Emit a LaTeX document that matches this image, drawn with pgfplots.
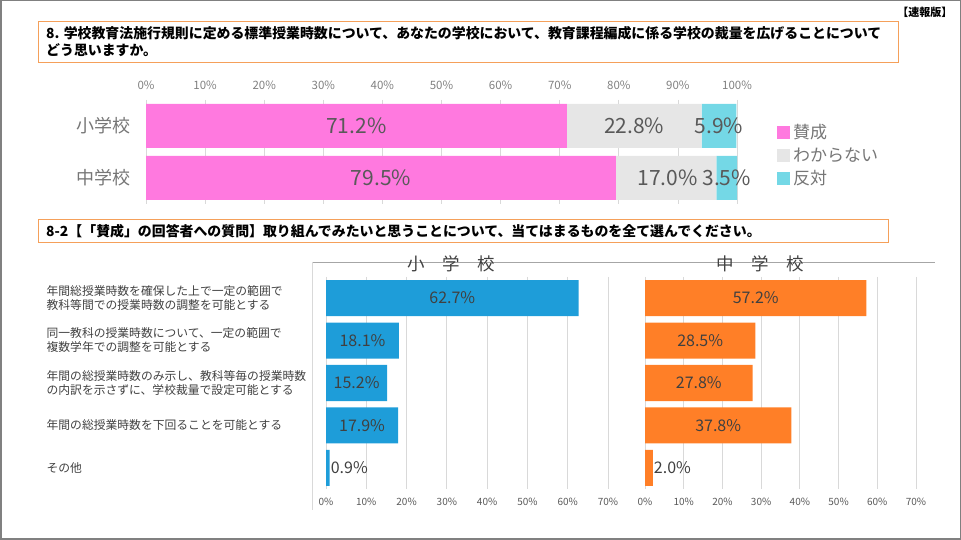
\documentclass[border=0pt]{standalone}
\usepackage{fontspec}
\setmainfont{Noto Sans CJK JP}
\usepackage{pgfplots}
\pgfplotsset{compat=1.18}
\definecolor{cPink}{RGB}{255,121,223}
\definecolor{cGrayBar}{RGB}{230,230,230}
\definecolor{cCyan}{RGB}{116,216,230}
\definecolor{cBlue}{RGB}{30,157,217}
\definecolor{cOrange}{RGB}{255,127,39}
\definecolor{cGrid}{RGB}{217,217,217}
\definecolor{cTick}{RGB}{128,128,128}
\definecolor{cCat}{RGB}{118,118,118}
\definecolor{cLab}{RGB}{89,89,89}
\definecolor{cLab2}{RGB}{64,64,64}
\definecolor{cBox}{RGB}{245,160,90}
\definecolor{cFrame}{RGB}{128,128,128}
\definecolor{cLine}{RGB}{166,166,166}
\begin{document}
\begin{tikzpicture}[x=1pt,y=1pt]
\useasboundingbox (0,0) rectangle (961,540);
\draw[cFrame, line width=1.5pt] (0.75,0.75) rectangle (960.25,539.25);
\node[anchor=east, font=\bfseries\fontsize{11}{13}\selectfont] at (956,528) {【速報版】};
% title box 1
\draw[cBox, line width=1pt] (38,477) rectangle (898,518);
\node[anchor=north west, align=left, inner sep=0pt, font=\bfseries\fontsize{13.9}{17}\selectfont] at (46,514)
 {8. 学校教育法施行規則に定める標準授業時数について、あなたの学校において、教育課程編成に係る学校の裁量を広げることについて\\どう思いますか。};
% top chart
\begin{axis}[
  at={(146pt,336pt)}, anchor=south west, scale only axis,
  width=591pt, height=104pt,
  xbar stacked, bar width=44pt,
  xmin=0, xmax=100, ymin=-0.5, ymax=1.5, y dir=reverse,
  xtick={0,10,...,100}, xticklabel pos=upper,
  /pgf/number format/assume math mode=true,
  xticklabel={\pgfmathprintnumber{\tick}\%},
  xticklabel style={font=\fontsize{11.5}{13}\selectfont, text=cTick, yshift=7pt},
  ytick={0,1}, yticklabels={小学校,中学校},
  yticklabel style={font=\fontsize{18}{18}\selectfont, text=cCat, xshift=-12pt},
  xmajorgrids, grid style={cGrid, line width=0.75pt},
  axis line style={draw=none}, major tick length=0pt,
  legend style={at={(1.0677,0.775)}, anchor=north west, draw=none, fill=none,
    inner sep=0pt, nodes={inner sep=1pt}, row sep=5.5pt, column sep=2pt,
    font=\fontsize{17}{17}\selectfont, text=cCat, cells={anchor=west}},
]
\addplot[fill=cPink, draw=none, legend image code/.code={\fill[cPink] (0pt,-6.5pt) rectangle (13pt,6.5pt);}] coordinates {(71.2,0) (79.5,1)};
\addlegendentry{賛成}
\addplot[fill=cGrayBar, draw=none, legend image code/.code={\fill[cGrayBar] (0pt,-6.5pt) rectangle (13pt,6.5pt);}] coordinates {(22.8,0) (17.0,1)};
\addlegendentry{わからない}
\addplot[fill=cCyan, draw=none, legend image code/.code={\fill[cCyan] (0pt,-6.5pt) rectangle (13pt,6.5pt);}] coordinates {(5.9,0) (3.5,1)};
\addlegendentry{反対}
\end{axis}
% top chart labels
\begin{axis}[
  at={(146pt,336pt)}, anchor=south west, scale only axis,
  width=591pt, height=104pt, hide axis, clip=false,
  xmin=0, xmax=100, ymin=-0.5, ymax=1.5, y dir=reverse,
]
\addplot[draw=none, mark=none, nodes near coords, point meta=explicit symbolic,
  nodes near coords align={center},
  every node near coord/.append style={font=\fontsize{21}{21}\selectfont, text=cLab}]
  coordinates {(35.6,0) [71.2\%] (82.6,0) [22.8\%] (96.95,0) [5.9\%]
               (39.75,1) [79.5\%] (88.25,1) [17.0\%] (98.25,1) [3.5\%]};
\end{axis}
% title box 2
\draw[cBox, line width=1pt] (38,297) rectangle (888,320);
\node[anchor=west, inner sep=0pt, font=\bfseries\fontsize{13.9}{17}\selectfont] at (46,309)
 {8-2【「賛成」の回答者への質問】取り組んでみたいと思うことについて、当てはまるものを全て選んでください。};
% bottom panel frame lines
\draw[cLine, line width=0.75pt] (312,278) -- (935,278);
\draw[cGrid, line width=0.75pt] (312,278) -- (312,30);
\node[font=\fontsize{17.5}{17.5}\selectfont, text=cLab2] at (451,276) {小　学　校};
\node[font=\fontsize{17.5}{17.5}\selectfont, text=cLab2] at (760,276) {中　学　校};
\pgfplotsset{
  bottomaxis/.style={
    anchor=south west, scale only axis, height=212.5pt,
    xmin=0, xmax=70, ymin=-0.5, ymax=4.5, y dir=reverse, clip=false,
    xtick={0,10,...,70},
    /pgf/number format/assume math mode=true,
    xticklabel={\pgfmathprintnumber{\tick}\%},
    xticklabel style={font=\fontsize{10}{12}\selectfont, text=cLab, yshift=-5pt},
    xmajorgrids, grid style={cGrid, line width=0.75pt},
    axis line style={draw=none}, major tick length=0pt,
  },
  centerlab/.style={draw=none, mark=none, nodes near coords, point meta=explicit symbolic,
    nodes near coords align={center},
    every node near coord/.append style={font=\fontsize{16}{16}\selectfont, text=cLab2}},
  westlab/.style={draw=none, mark=none, nodes near coords, point meta=explicit symbolic,
    nodes near coords align={west},
    every node near coord/.append style={font=\fontsize{16}{16}\selectfont, text=cLab2, inner sep=1pt}},
}
\begin{axis}[bottomaxis, at={(326pt,50.75pt)}, width=282pt,
  ytick={0,1,2,3,4},
  yticklabels={{年間総授業時数を確保した上で一定の範囲で\\教科等間での授業時数の調整を可能とする},
               {同一教科の授業時数について、一定の範囲で\\複数学年での調整を可能とする},
               {年間の総授業時数のみ示し、教科等毎の授業時数\\の内訳を示さずに、学校裁量で設定可能とする},
               {年間の総授業時数を下回ることを可能とする},
               {その他}},
  yticklabel style={anchor=west, align=left, font=\fontsize{11.8}{14}\selectfont, text=cLab2, xshift=-282.9pt},
]
\addplot[xbar, bar width=36pt, bar shift=0pt, fill=cBlue, draw=none]
  coordinates {(62.7,0) (18.1,1) (15.2,2) (17.9,3) (0.9,4)};
\addplot[centerlab] coordinates {(31.35,0) [62.7\%] (9.05,1) [18.1\%] (7.6,2) [15.2\%] (8.95,3) [17.9\%]};
\addplot[westlab] coordinates {(0.9,4) [0.9\%]};
\end{axis}
\begin{axis}[bottomaxis, at={(645pt,50.75pt)}, width=271pt, ytick=\empty]
\addplot[xbar, bar width=36pt, bar shift=0pt, fill=cOrange, draw=none]
  coordinates {(57.2,0) (28.5,1) (27.8,2) (37.8,3) (2.0,4)};
\addplot[centerlab] coordinates {(28.6,0) [57.2\%] (14.25,1) [28.5\%] (13.9,2) [27.8\%] (18.9,3) [37.8\%]};
\addplot[westlab] coordinates {(2.0,4) [2.0\%]};
\end{axis}
\end{tikzpicture}
\end{document}
